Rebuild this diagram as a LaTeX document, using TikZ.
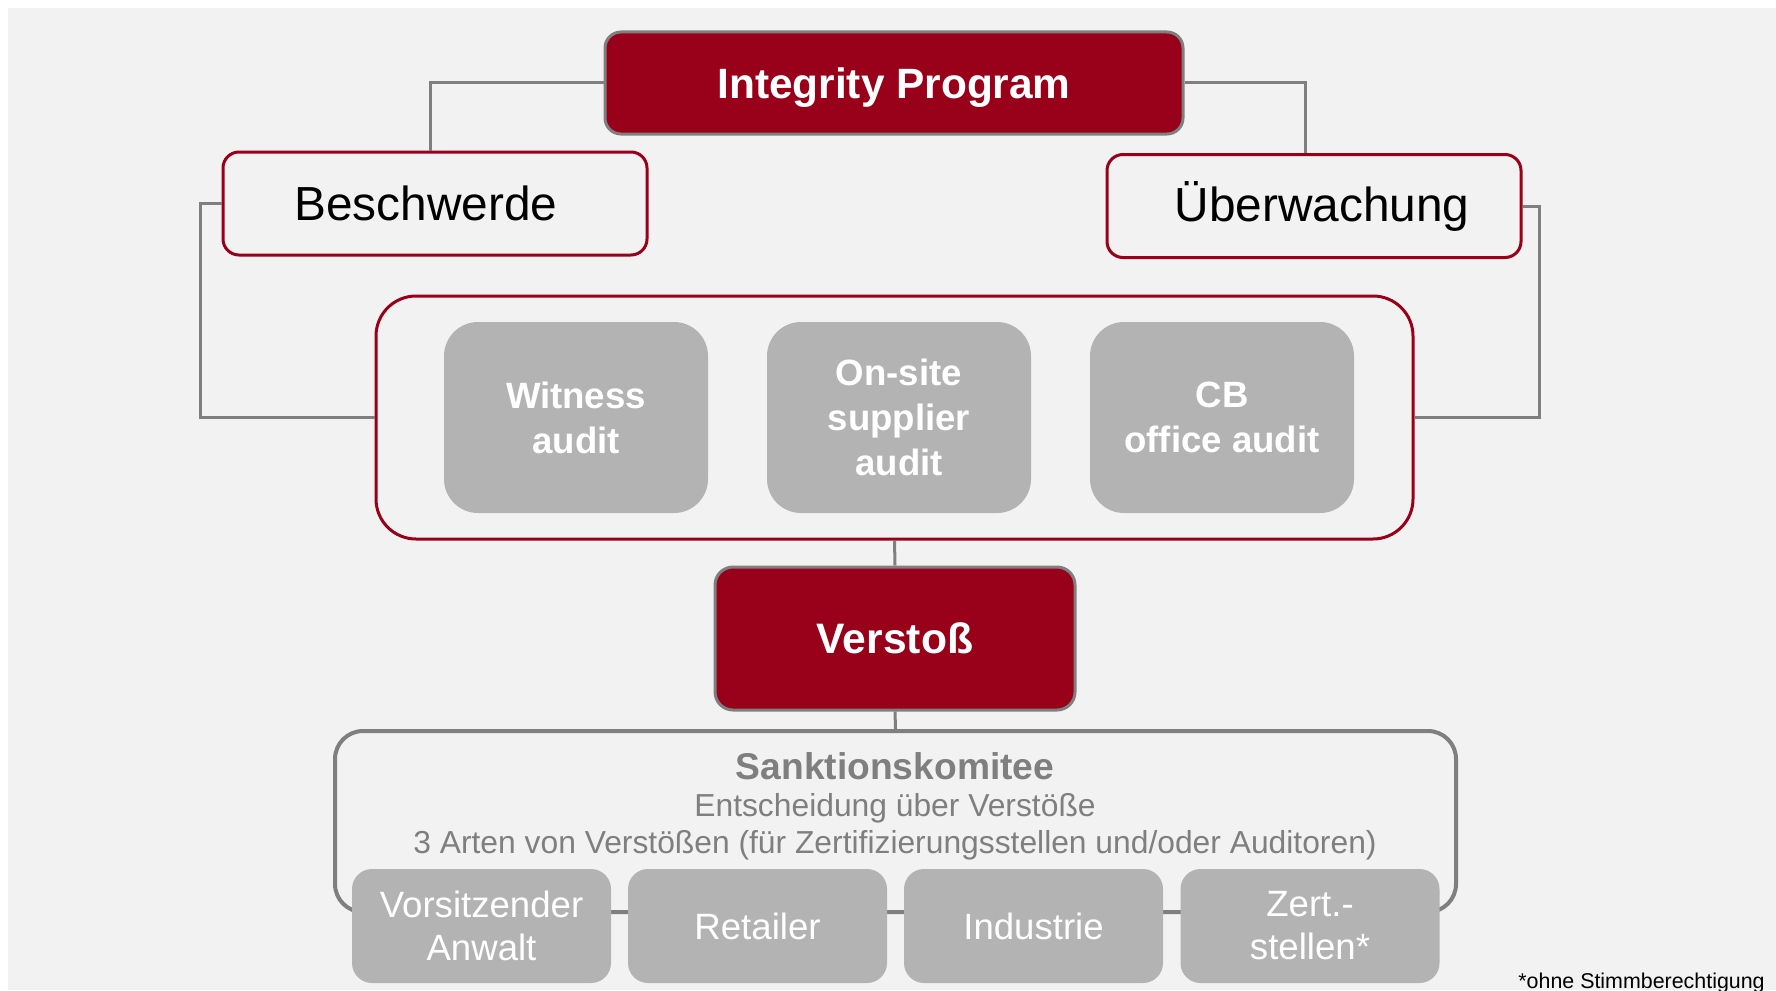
\documentclass[tikz,border=0pt]{standalone}
\usepackage{fontspec}
\setmainfont{Liberation Sans}
\definecolor{ipred}{HTML}{990019}
\definecolor{ipgray}{HTML}{7F7F7F}
\definecolor{boxgray}{HTML}{B3B3B3}
\definecolor{bggray}{HTML}{F2F2F2}
\tikzset{
    headbox/.style={draw=ipgray, line width=1.5pt, fill=ipred, rounded corners=8pt, text=white}, % rote Kaesten
    sidebox/.style={draw=ipred, line width=1.5pt, fill=bggray, rounded corners=8pt, minimum height=51.5pt, font=\fontsize{23.9}{28}\selectfont},
    auditbox/.style={fill=boxgray, rounded corners=17pt, minimum width=132pt, minimum height=95.5pt, text=white, align=center, font=\fontsize{18.3}{22.5}\selectfont\bfseries},
    memberbox/.style={fill=boxgray, rounded corners=10pt, minimum width=129.5pt, minimum height=57pt, text=white, align=center, font=\fontsize{18.3}{21.5}\selectfont},
    link/.style={draw=ipgray, line width=1.5pt}
}

\begin{document}
\begin{tikzpicture}[x=0.5pt, y=-0.5pt, inner sep=0pt]
    \useasboundingbox (0,0) rectangle (1776,990);
    \fill[bggray] (8,8) rectangle (1776,990);

    \node[headbox, minimum width=289pt, minimum height=51pt, text depth=0pt, font=\fontsize{21.2}{25}\selectfont\bfseries] (prog) at (894,83) {Integrity Program};
    \node[sidebox, minimum width=212pt] (beschw) at (435,203.5) {\hspace*{-9pt}Beschwerde};
    \node[sidebox, minimum width=207pt] (ueberw) at (1314,206) {\hspace*{8pt}Überwachung};

    \node[draw=ipred, line width=1.5pt, fill=bggray, rounded corners=20pt, minimum width=518.5pt, minimum height=121.5pt] (audits) at (894.5,417.5) {};
    \node[auditbox] (witness) at (576,417.5) {Witness\\audit};
    \node[auditbox] (onsite) at (899,417.5) {On-site\\supplier\\audit};
    \node[auditbox] (cboffice) at (1222,417.5) {CB\\office audit};

    \node[headbox, rounded corners=9pt, minimum width=180pt, minimum height=71.5pt, font=\fontsize{21.3}{25}\selectfont\bfseries] (verstoss) at (895,638.5) {Verstoß};

    \node[draw=ipgray, line width=2pt, fill=bggray, rounded corners=14pt, minimum width=560.5pt, minimum height=90.5pt] (sankt) at (895.5,821.5) {};
    \node[text=ipgray, font=\fontsize{18.6}{22}\selectfont\bfseries] (sanktitle) at (895,766) {Sanktionskomitee};
    \node[text=ipgray, font=\fontsize{15.9}{19}\selectfont] (sankdesc) at (895,808) {Entscheidung über Verstöße};
    \node[text=ipgray, font=\fontsize{15.9}{19}\selectfont] (sankarten) at (895,845) {3 Arten von Verstößen (für Zertifizierungsstellen und/oder Auditoren)};

    \node[memberbox] (chair) at (481.5,926) {Vorsitzender\\Anwalt};
    \node[memberbox] (retail) at (757.5,926) {Retailer};
    \node[memberbox] (industry) at (1033.5,926) {Industrie};
    \node[memberbox] (certbodies) at (1310,926) {Zert.-\\stellen*};

    \node[anchor=base west, font=\fontsize{10.7}{13}\selectfont] (footnote) at (1518,988) {*ohne Stimmberechtigung};

    % Verbindungen
    \draw[link] (prog.west) -| ([xshift=-2.5pt]beschw.north);
    \draw[link] (prog.east) -| ([xshift=-4.5pt]ueberw.north);
    \draw[link] (beschw.west) -- ++(-21,0) |- (audits.west);
    \draw[link] (ueberw.east) -- ++(17,0) |- (audits.east);
    \draw[link] (audits.south) -- (verstoss.north);
    \draw[link] (verstoss.south) -- (sankt.north);
\end{tikzpicture}
\end{document}
